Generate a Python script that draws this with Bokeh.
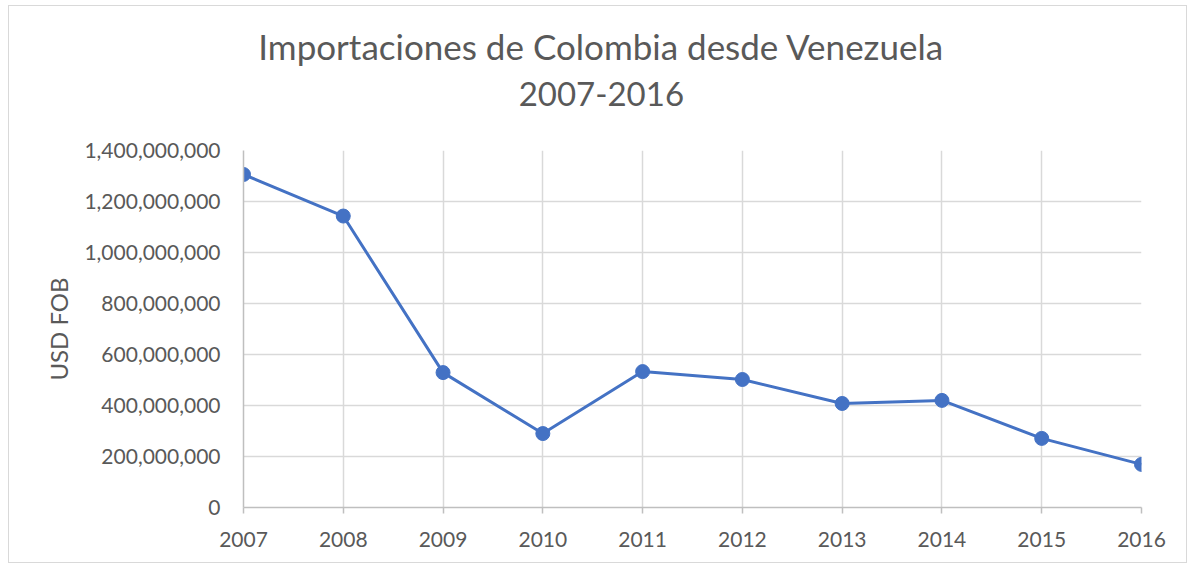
from bokeh.plotting import figure
from bokeh.layouts import column
from bokeh.models import Range1d, FixedTicker, NumeralTickFormatter
from bokeh.core.properties import value
from bokeh.embed import file_html
from bokeh.resources import INLINE

years = [2007, 2008, 2009, 2010, 2011, 2012, 2013, 2014, 2015, 2016]
imports_usd = [1306e6, 1143e6, 529e6, 290e6, 533e6, 502e6, 408e6, 420e6, 271e6, 169e6]
y_ticks = [0, 200e6, 400e6, 600e6, 800e6, 1000e6, 1200e6, 1400e6]
title_line1 = "Importaciones de Colombia desde Venezuela"
title_line2 = "2007-2016"
y_label = "USD FOB"

FONT = "Lato"
GREY_TEXT = "#595959"
BLUE = "#4472C4"
W = 1177
TITLE_H = 124
MAIN_H = 432
MAIN_TOP = 20
TITLE_X = 469  # title band frame is aligned with the chart frame in the column

# ---- title band (its own figure, y measured from the top) ----
t = figure(width=W, height=TITLE_H, output_backend="svg", toolbar_location=None, title=None,
           x_range=Range1d(0, W), y_range=Range1d(TITLE_H, 0),
           x_axis_location=None, y_axis_location=None,
           min_border_left=0, min_border_right=0, min_border_top=0, min_border_bottom=0)
t.grid.visible = False
t.outline_line_color = None
t.border_fill_color = "white"
t.text(x=[TITLE_X], y=[39], text=[title_line1], text_align="center",
       text_baseline="alphabetic", text_font=value(FONT), text_font_size="35px",
       text_color=GREY_TEXT)
t.text(x=[TITLE_X], y=[87], text=[title_line2], text_align="center",
       text_baseline="alphabetic", text_font=value(FONT), text_font_size="33px",
       text_color=GREY_TEXT)

# ---- main chart ----
p = figure(width=W, height=MAIN_H, output_backend="svg", toolbar_location=None, title=None,
           x_range=Range1d(2007, 2016), y_range=Range1d(0, 1.4e9),
           min_border_left=234, min_border_right=45, min_border_top=MAIN_TOP, min_border_bottom=55)

p.line(years, imports_usd, line_color=BLUE, line_width=3)
p.scatter(years, imports_usd, size=14, fill_color=BLUE, line_color=BLUE)

p.outline_line_color = None
p.background_fill_color = "white"
p.border_fill_color = "white"

p.xaxis.ticker = FixedTicker(ticks=years)
p.yaxis.ticker = FixedTicker(ticks=y_ticks)
p.yaxis.formatter = NumeralTickFormatter(format="0,0")

p.xgrid.ticker = FixedTicker(ticks=years)
p.ygrid.ticker = FixedTicker(ticks=y_ticks)
for g in (p.xgrid, p.ygrid):
    g.grid_line_color = "#d9d9d9"
    g.grid_line_width = 1.5

for ax in (p.xaxis, p.yaxis):
    ax.axis_line_color = "#bfbfbf"
    ax.axis_line_width = 1.5
    ax.major_label_text_font = FONT
    ax.major_label_text_font_size = "21px"
    ax.major_label_text_color = GREY_TEXT
    ax.minor_tick_line_color = None

p.xaxis.major_tick_line_color = "#bfbfbf"
p.xaxis.major_tick_line_width = 1.5
p.xaxis.major_tick_in = 0
p.xaxis.major_tick_out = 6
p.xaxis.major_label_standoff = 18

p.yaxis.major_tick_line_color = None
p.yaxis.major_label_standoff = 17
p.yaxis.axis_label = y_label
p.yaxis.axis_label_text_font = FONT
p.yaxis.axis_label_text_font_size = "24px"
p.yaxis.axis_label_text_font_style = "normal"
p.yaxis.axis_label_text_color = GREY_TEXT
p.yaxis.axis_label_standoff = 8

layout = column(t, p, spacing=0)
layout.styles = {"border": "1px solid #d9d9d9", "margin-left": "8px", "margin-top": "5px",
                 "background-color": "white"}

open("out.html", "w").write(file_html(layout, INLINE))
